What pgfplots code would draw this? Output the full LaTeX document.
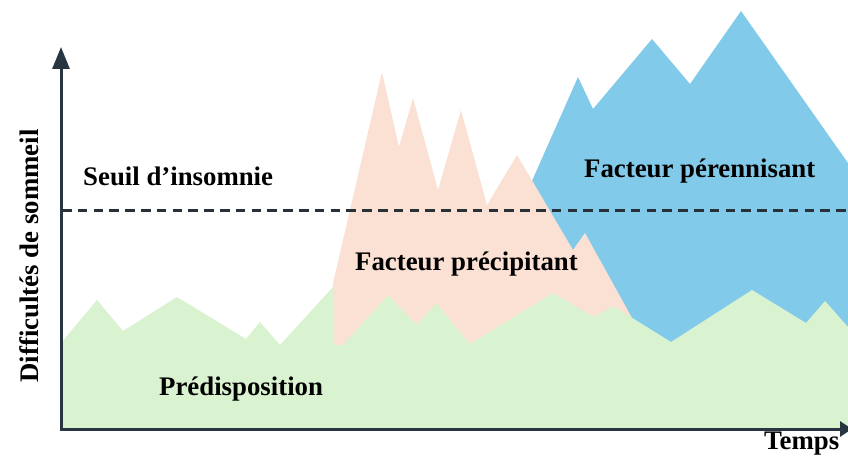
\documentclass[border=0pt]{standalone}
\usepackage{fontspec}
\setmainfont{Liberation Serif}
\usepackage{pgfplots}
\pgfplotsset{compat=1.18}
\usetikzlibrary{arrows.meta}
\definecolor{greenc}{RGB}{217,242,208}
\definecolor{pinkc}{RGB}{251,225,212}
\definecolor{bluec}{RGB}{130,202,234}
\definecolor{axc}{RGB}{40,54,66}
\definecolor{dashc}{RGB}{40,48,58}
\begin{document}
\begin{tikzpicture}
\begin{axis}[
  width=848pt, height=456pt, scale only axis,
  xmin=0, xmax=848, ymin=-27, ymax=429,
  hide axis, clip=false,
]
% Perennisant (blue)
\addplot[fill=bluec, draw=none] coordinates {
 (520,221) (578,352) (593,320) (652,390) (690,345) (741,418) (848,266)
} \closedcycle;
% Precipitant (pink)
\addplot[fill=pinkc, draw=none] coordinates {
 (333,146) (382,357) (399,282) (413,331) (438,239) (461,319) (487,224)
 (517,274) (573,179) (585,196) (632,111) (645,88)
} \closedcycle;
% Predisposition (green)
\addplot[fill=greenc, draw=none] coordinates {
 (61,86) (97,129) (123,98) (177,132) (246,90) (260,107) (280,84)
 (333,142) (334,84) (343,84) (388,134) (417,104) (436,126) (470,85)
 (553,136) (594,112) (613,123) (671,87) (752,139) (806,106) (825,128) (848,102)
} \closedcycle;
% Seuil d'insomnie
\addplot[dashc, line width=2.6pt, dash pattern=on 9.5pt off 6.3pt] coordinates {(62,218.5) (848,218.5)};
% axes
\draw[axc, line width=3pt, {Triangle[width=17pt,length=22pt]}-{Triangle[width=15pt,length=12pt]}]
  (axis cs:61,382) -- (axis cs:61,0) -- (axis cs:852,0);
\begin{scope}[every node/.style={font=\fontsize{26.8}{30}\selectfont\bfseries, text=black, inner sep=0pt}]
\node[anchor=base west] at (axis cs:83,244) {Seuil d’insomnie};
\node[anchor=base west] at (axis cs:159,34) {Prédisposition};
\node[anchor=base west] at (axis cs:355,159) {Facteur précipitant};
\node[anchor=base west] at (axis cs:584,252) {Facteur pérennisant};
\node[anchor=base west] at (axis cs:764,-20.5) {Temps};
\node[anchor=base, rotate=90] at (axis cs:38,173) {Difficultés de sommeil};
\end{scope}
\coordinate (BL) at (axis cs:0,-27);
\coordinate (TR) at (axis cs:848,429);
\end{axis}
\pgfresetboundingbox
\path[use as bounding box] (BL) rectangle (TR);
\end{tikzpicture}
\end{document}
